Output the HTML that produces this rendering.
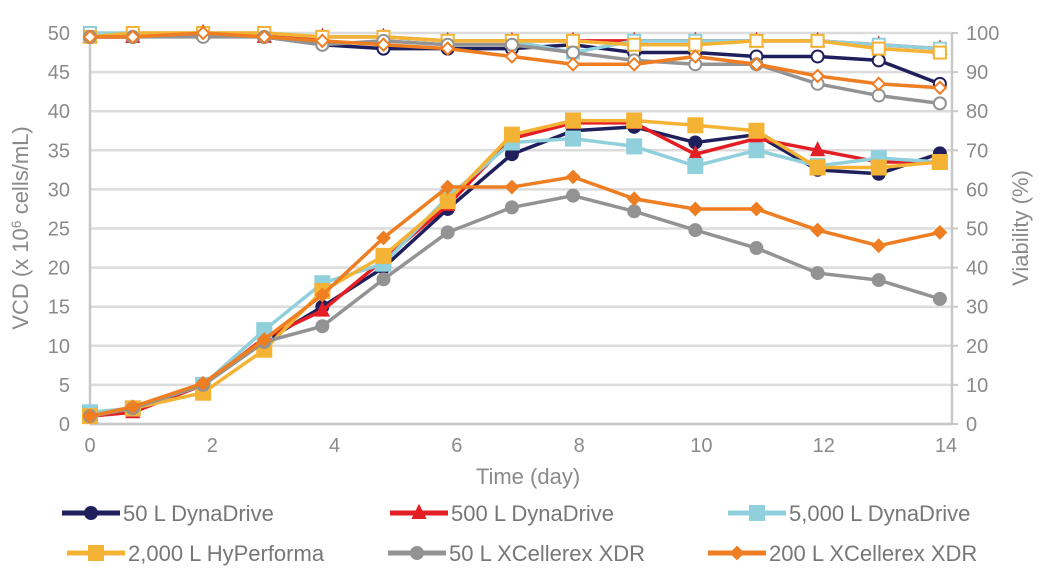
<!DOCTYPE html>
<html><head><meta charset="utf-8"><style>
body{margin:0;background:#fff;}
svg{display:block;font-family:"Liberation Sans",sans-serif;}
</style></head><body>
<svg id="chart" width="1045" height="573"></svg>
<script>
const days = [0,0.7,1.85,2.85,3.8,4.8,5.85,6.9,7.9,8.9,9.9,10.9,11.9,12.9,13.9];
const seriesNames = ["50 L DynaDrive","500 L DynaDrive","5,000 L DynaDrive","2,000 L HyPerforma","50 L XCellerex XDR","200 L XCellerex XDR"];
const vcd50DD   = [1,2,5,10.5,15,20,27.5,34.5,37.5,38,36,37,32.5,32,34.6];
const vcd500DD  = [1,1.5,5,11,14.5,21,28,36.5,38.5,38.5,34.5,36.5,35,33.5,33.5];
const vcd5000DD = [1.5,2,5,12,18,20.5,29,36,36.5,35.5,33,35,33,34,33.5];
const vcd2000HP = [1,2,4,9.5,17,21.5,28.5,37,38.8,38.8,38.2,37.5,32.8,32.8,33.5];
const vcd50XDR  = [1,2,5,10.5,12.5,18.5,24.5,27.7,29.2,27.2,24.8,22.5,19.3,18.4,16];
const vcd200XDR = [1,2.2,5.2,10.8,16.5,23.8,30.3,30.3,31.6,28.8,27.5,27.5,24.8,22.8,24.5];
const via50DD   = [99,99,100,99,97,96,96,96,97,95,95,94,94,93,87];
const via500DD  = [99,99,100,99,99,99,98,98,98,98,98,98,98,97,96];
const via5000DD = [100,100,100,100,99,99,98,98,95,98,98,98,98,97,96];
const via2000HP = [99,100,100,100,99,99,98,98,98,97,97,98,98,96,95];
const via50XDR  = [99,99,99,99,97,98,97,97,95,93,92,92,87,84,82];
const via200XDR = [99,99,100,99,98,97,96,94,92,92,94,92,89,87,86];
const xTicks = [0,2,4,6,8,10,12,14];
const yLeftTicks = [0,5,10,15,20,25,30,35,40,45,50];
const yRightTicks = [0,10,20,30,40,50,60,70,80,90,100];

const NS="http://www.w3.org/2000/svg";
const svg=document.getElementById('chart');
const X0=90,X1=952,Y0=424,Y1=33;
const xs=d=>X0+d*(946-X0)/14;
const yl=v=>Y0-v*(Y0-Y1)/50;
const yr=v=>Y0-v*(Y0-Y1)/100;
function mk(t,a,p){const e=document.createElementNS(NS,t);for(const k in a)e.setAttribute(k,a[k]);(p||svg).appendChild(e);return e;}
const grey="#8a8a8a";
// gridlines
yLeftTicks.forEach(v=>{
  const g=mk('line',{x1:X0,x2:X1,y1:yl(v),y2:yl(v),stroke:"#dcdcdc","stroke-width":2.5});
  
  
  const t=mk('text',{x:X0-20,y:yl(v)+7,"text-anchor":"end","font-size":20,fill:grey});
  t.textContent=v;
  
  
});
yRightTicks.forEach(v=>{
  const t=mk('text',{x:X1+14,y:yr(v)+7,"font-size":20,fill:grey});
  t.textContent=v;
  
  
  const tk=mk('line',{x1:X1,x2:X1+6,y1:yr(v),y2:yr(v),stroke:"#c8c8c8","stroke-width":2});
  
  
});
const ax=mk('line',{x1:X0,x2:X0,y1:Y1,y2:Y0,stroke:"#c8c8c8","stroke-width":2.5});

const ax2=mk('line',{x1:X1,x2:X1,y1:Y1,y2:Y0,stroke:"#c8c8c8","stroke-width":2.5});

const ax3=mk('line',{x1:X0,x2:X1,y1:Y0,y2:Y0,stroke:"#c8c8c8","stroke-width":2.5});

xTicks.forEach(v=>{
  const t=mk('text',{x:xs(v),y:Y0+28,"text-anchor":"middle","font-size":20,fill:grey});
  t.textContent=v;
  
  
});
const xt=mk('text',{x:528,y:484,"text-anchor":"middle","font-size":22,fill:grey});
xt.textContent="Time (day)";
const ylt=mk('text',{x:0,y:0,"text-anchor":"middle","font-size":22,fill:grey,transform:"translate(28,228) rotate(-90)"});
ylt.innerHTML='VCD (x 10<tspan dy="-7" font-size="14">6</tspan><tspan dy="7"> cells/mL)</tspan>';

const yrt=mk('text',{x:0,y:0,"text-anchor":"middle","font-size":22,fill:grey,transform:"translate(1028,228) rotate(-90)"});
yrt.textContent="Viability (%)";

const colors=["#1e1f5c","#e31e24","#8fd0dc","#f5b335","#939393","#ef7d22"];
const shapes=["circle","triangle","square","square","circle","diamond"];
const vcds=[vcd50DD,vcd500DD,vcd5000DD,vcd2000HP,vcd50XDR,vcd200XDR];
const vias=[via50DD,via500DD,via5000DD,via2000HP,via50XDR,via200XDR];
function marker(shape,x,y,c,filled,s){
  let e;
  const f=filled?c:"#fff";
  if(shape==="circle")e=mk('circle',{cx:x,cy:y,r:s,fill:f,stroke:c,"stroke-width":2});
  else if(shape==="square")e=mk('rect',{x:x-s,y:y-s,width:2*s,height:2*s,fill:f,stroke:c,"stroke-width":2});
  else if(shape==="triangle")e=mk('polygon',{points:`${x},${y-s-1} ${x+s},${y+s-1} ${x-s},${y+s-1}`,fill:f,stroke:c,"stroke-width":2});
  else e=mk('polygon',{points:`${x},${y-s} ${x+s},${y} ${x},${y+s} ${x-s},${y}`,fill:f,stroke:c,"stroke-width":2});
  return e;
}
[0,1,2,3,4,5].forEach(i=>{
  const c=colors[i];
  // viability
  const pv=mk('polyline',{points:days.map((d,k)=>xs(d)+","+yr(vias[i][k])).join(" "),fill:"none",stroke:c,"stroke-width":3.5});
  
  
  days.forEach((d,k)=>{
    const m=marker(shapes[i],xs(d),yr(vias[i][k]),c,false,6);
    
    
  });
});
[0,1,2,3,4,5].forEach(i=>{
  const c=colors[i];
  const p=mk('polyline',{points:days.map((d,k)=>xs(d)+","+yl(vcds[i][k])).join(" "),fill:"none",stroke:c,"stroke-width":3.5});
  
  
  days.forEach((d,k)=>{
    const m=marker(shapes[i],xs(d),yl(vcds[i][k]),c,true,shapes[i]==="square"?7:6);
    
    
  });
});
// legend
const legPos=[[62,513],[390,513],[728,513],[67,553],[388,553],[708,553]];
seriesNames.forEach((n,i)=>{
  const [lx,ly]=legPos[i];
  const l=mk('line',{x1:lx,x2:lx+58,y1:ly,y2:ly,stroke:colors[i],"stroke-width":5});
  
  
  const m=marker(shapes[i],lx+29,ly,colors[i],true,shapes[i]==="square"?7:6);
  
  
  const t=mk('text',{x:lx+61,y:ly+8,"font-size":22,fill:"#777"});
  t.textContent=n;
  
  
});
</script>
</body></html>
